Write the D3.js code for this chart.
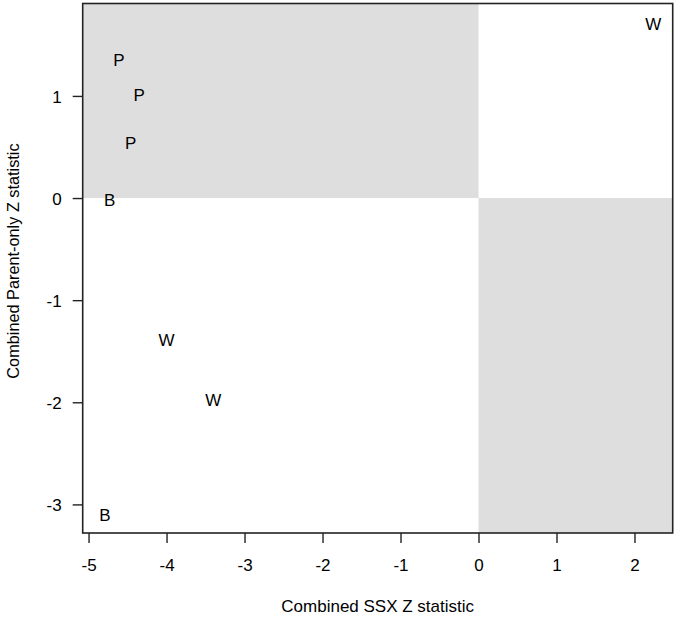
<!DOCTYPE html>
<html>
<head>
<meta charset="utf-8">
<script src="https://cdn.jsdelivr.net/npm/d3@7"></script>
<style>
  html, body { margin: 0; padding: 0; background: #fff; }
  svg text { font-family: "Liberation Sans", Arial, sans-serif; fill: #000; }
</style>
</head>
<body>
<svg id="chart" width="680" height="617"></svg>
<script>
// point labels and their coordinates
const labels = ['P', 'P', 'P', 'B', 'W', 'W', 'B', 'W'];
const ssxZ = [-4.61, -4.35, -4.46, -4.73, -4.00, -3.40, -4.79, 2.24];
const parentZ = [1.35, 1.01, 0.54, -0.02, -1.39, -1.98, -3.10, 1.71];

const xTicks = [-5, -4, -3, -2, -1, 0, 1, 2];
const yTicks = [-3, -2, -1, 0, 1];

const xTitle = 'Combined SSX Z statistic';
const yTitle = 'Combined Parent-only Z statistic';

(function () {
    'use strict';

    const svg = d3.select('#chart');
    const left = 82.7, right = 672.7, top = 3.5, bottom = 533;
    const fs = '17px';

    const x = d3.scaleLinear().domain([-5.075, 2.49]).range([left, right]);
    const y = d3.scaleLinear().domain([-3.28, 1.905]).range([bottom, top]);

    const [x0, x1] = x.domain();
    const [y0, y1] = y.domain();

    // shaded discordant quadrants
    const quads = [
        { xa: x0, xb: 0, ya: 0, yb: y1 },
        { xa: 0, xb: x1, ya: y0, yb: 0 }
    ];
    svg.append('g')
        .selectAll('rect')
        .data(quads)
        .join('rect')
        .attr('x', d => x(d.xa))
        .attr('y', d => y(d.yb))
        .attr('width', d => x(d.xb) - x(d.xa))
        .attr('height', d => y(d.ya) - y(d.yb))
        .attr('fill', '#dedede');

    // letters as points
    svg.append('g')
        .selectAll('text')
        .data(labels)
        .join('text')
        .attr('x', (d, i) => x(ssxZ[i]))
        .attr('y', (d, i) => y(parentZ[i]))
        .attr('dy', '0.36em')
        .attr('text-anchor', 'middle')
        .attr('font-size', fs)
        .text(d => d);

    // box
    svg.append('rect')
        .attr('x', left)
        .attr('y', top)
        .attr('width', right - left)
        .attr('height', bottom - top)
        .attr('fill', 'none')
        .attr('stroke', '#222')
        .attr('stroke-width', 1.6);

    // axes (plain hyphen for negatives, like the original)
    const fmt = d => String(d);
    const xAxis = svg.append('g')
        .attr('transform', `translate(0,${bottom})`)
        .call(d3.axisBottom(x).tickValues(xTicks).tickSize(10).tickPadding(16).tickFormat(fmt));
    const yAxis = svg.append('g')
        .attr('transform', `translate(${left},0)`)
        .call(d3.axisLeft(y).tickValues(yTicks).tickSize(10).tickPadding(11).tickFormat(fmt));

    [xAxis, yAxis].forEach(a => {
        a.select('.domain').remove();
        a.selectAll('line').attr('stroke', '#222').attr('stroke-width', 1.4);
        a.selectAll('text')
            .attr('font-size', fs)
            .attr('font-family', '"Liberation Sans", Arial, sans-serif')
            .attr('fill', '#000');
    });
    yAxis.selectAll('text').attr('dy', '0.36em');

    // axis titles
    svg.append('text')
        .attr('x', (left + right) / 2)
        .attr('y', 612)
        .attr('text-anchor', 'middle')
        .attr('font-size', fs)
        .text(xTitle);

    svg.append('text')
        .attr('transform', 'translate(19,261) rotate(-90)')
        .attr('text-anchor', 'middle')
        .attr('font-size', '16.3px')
        .text(yTitle);
})();
</script>
</body>
</html>
